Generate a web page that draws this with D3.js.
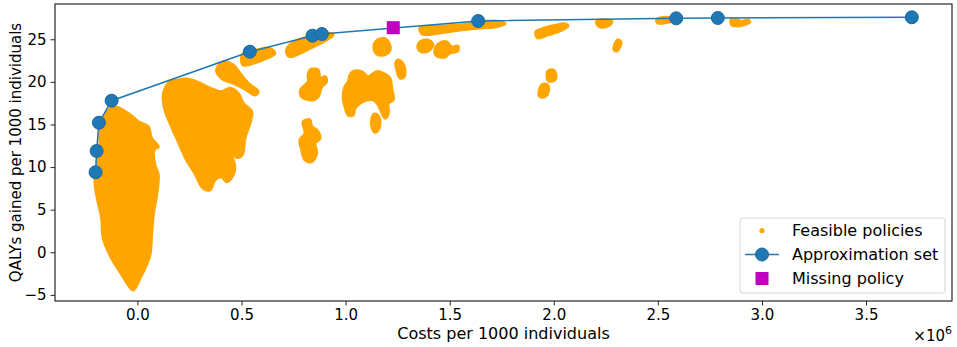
<!DOCTYPE html>
<html>
<head>
<meta charset="utf-8">
<script src="https://cdn.jsdelivr.net/npm/d3@7"></script>
<style>
  html, body { margin: 0; padding: 0; background: #fff; }
  svg { display: block; font-family: "DejaVu Sans", sans-serif; }
</style>
</head>
<body>
<svg id="chart" width="957" height="347"></svg>
<script>
/* Feasible policies vs. approximation set.
   Costs are in units of 1e6 (the axis carries the x10^6 offset label).
   The feasible policies are thousands of dots in the original; here each
   dense cluster is kept as its outline.           */

// approximation set (cost in 1e6, QALYs per 1000)
var approxCost = [-0.201, -0.196, -0.185, -0.124, 0.540, 0.841, 0.886, 1.637, 2.588, 2.788, 3.720];
var approxQaly = [9.39, 11.89, 15.21, 17.79, 23.54, 25.42, 25.62, 27.15, 27.46, 27.50, 27.58];

// the one policy the approximation set missed
var missingCost = [1.229];
var missingQaly = [26.36];

// feasible policy clusters, outlines as [cost, qaly]
var clusterMain = [[-0.116,17.09],[-0.036,16.15],[0.004,15.33],[0.052,14.74],[0.068,13.38],[0.100,12.39],
  [0.079,12.0],[0.084,10.25],[0.100,9.07],[0.092,6.73],[0.076,4.38],[0.068,2.03],[0.060,-0.32],[0.036,-1.88],
  [0.012,-3.05],[-0.020,-4.42],[-0.044,-3.83],[-0.084,-2.28],[-0.124,-0.70],[-0.164,1.64],[-0.172,3.99],
  [-0.196,6.73],[-0.204,8.29],[-0.180,12.21],[-0.180,14.15],[-0.156,16.11]];
var clusterWing = [[0.148,19.84],[0.196,20.22],[0.244,20.31],[0.300,19.84],[0.348,19.25],[0.404,18.85],
  [0.444,19.25],[0.484,18.66],[0.508,17.49],[0.549,16.50],[0.540,15.14],[0.516,13.38],[0.503,11.42],
  [0.476,11.15],[0.404,14.55],[0.468,10.05],[0.460,9.07],[0.428,8.29],[0.404,8.87],[0.372,8.49],
  [0.348,7.32],[0.316,7.51],[0.276,9.27],[0.236,10.83],[0.196,12.98],[0.164,14.74],[0.132,16.70],[0.124,18.46]];
var clusterC = [[0.412,22.37],[0.460,21.98],[0.492,21.01],[0.532,19.84],[0.580,18.85],[0.564,18.46],
  [0.524,19.05],[0.460,19.84],[0.404,20.42],[0.380,21.39]];
var clusterD = [[0.508,23.36],[0.573,23.74],[0.636,23.94],[0.660,23.36],[0.621,22.77],[0.556,22.18],[0.508,21.98],[0.500,22.77]];
var clusterE = [[0.724,24.13],[0.772,24.91],[0.829,25.31],[0.909,25.70],[0.940,25.50],[0.892,24.72],
  [0.829,23.94],[0.780,23.36],[0.732,22.96],[0.716,23.54]];
var clusterF = [[0.829,21.40],[0.868,21.40],[0.877,20.42],[0.901,20.61],[0.909,20.02],[0.885,19.44],
  [0.868,18.26],[0.837,17.88],[0.789,18.26],[0.784,19.05],[0.820,20.02],[0.820,20.81]];
var clusterG = [[0.796,15.33],[0.829,15.53],[0.837,14.74],[0.861,14.35],[0.877,13.38],[0.853,12.79],
  [0.861,11.62],[0.837,10.63],[0.805,10.83],[0.789,12.01],[0.781,13.18],[0.805,13.97]];
var clusterH = [[1.036,21.20],[1.077,21.20],[1.109,20.61],[1.149,21.20],[1.181,21.01],[1.213,20.42],
  [1.221,19.25],[1.229,17.88],[1.205,17.49],[1.205,16.31],[1.189,15.73],[1.157,17.29],[1.133,17.88],
  [1.101,17.88],[1.069,17.49],[1.045,16.90],[1.036,16.11],[1.013,16.11],[0.997,17.09],[0.988,18.26],
  [0.997,19.44],[1.013,20.02],[1.021,20.81]];
var clusterH3 = [[1.137,16.20],[1.157,16.00],[1.165,15.14],[1.157,14.35],[1.141,14.08],[1.128,14.55],[1.125,15.53]];
var clusterI = [[1.147,24.80],[1.184,25.09],[1.208,24.57],[1.213,23.75],[1.184,23.16],[1.150,23.28],[1.136,23.98]];
var clusterJ = [[1.251,22.57],[1.270,22.34],[1.285,21.40],[1.280,20.58],[1.261,20.46],[1.246,21.40],[1.241,22.22]];
var clusterL = [[1.357,26.33],[1.453,26.56],[1.573,26.74],[1.645,27.03],[1.741,27.09],[1.765,26.80],
  [1.717,26.45],[1.645,26.33],[1.549,26.09],[1.453,25.74],[1.369,25.62]];
var clusterM = [[1.357,24.68],[1.395,24.91],[1.419,24.44],[1.405,23.75],[1.367,23.51],[1.348,23.98]];
var clusterN = [[1.453,24.57],[1.486,24.68],[1.510,24.10],[1.539,24.21],[1.539,23.63],[1.501,23.39],
  [1.477,22.92],[1.438,23.04],[1.429,23.75]];
var clusterO = [[1.914,25.86],[1.957,26.33],[2.005,26.62],[2.053,26.80],[2.068,26.56],[2.029,25.98],[1.971,25.51],[1.923,25.16]];
var clusterQ = [[2.207,27.15],[2.260,27.27],[2.279,27.03],[2.260,26.56],[2.222,26.45],[2.207,26.80]];
var clusterR = [[2.308,24.92],[2.323,24.68],[2.304,23.63],[2.290,23.74],[2.294,24.45]];
var clusterS = [[1.972,21.28],[1.996,21.40],[2.010,20.81],[2.005,20.22],[1.976,20.11],[1.967,20.69]];
var clusterT = [[1.945,19.69],[1.969,19.64],[1.974,18.93],[1.955,18.23],[1.931,18.35],[1.931,19.05]];
var clusterU = [[2.495,27.27],[2.524,27.56],[2.558,27.50],[2.567,27.15],[2.534,26.92],[2.500,26.92]];
var clusterV = [[2.851,27.27],[2.884,27.27],[2.903,27.09],[2.932,27.27],[2.942,27.03],[2.918,26.74],[2.884,26.56],[2.856,26.68]];

var feasibleClusters = [clusterMain, clusterWing, clusterC, clusterD, clusterE, clusterF, clusterG,
  clusterH, clusterH3, clusterI, clusterJ, clusterL, clusterM, clusterN, clusterO, clusterQ, clusterR,
  clusterS, clusterT, clusterU, clusterV];

var xTickValues = [0, 0.5, 1.0, 1.5, 2.0, 2.5, 3.0, 3.5];
var yTickValues = [-5, 0, 5, 10, 15, 20, 25];
var legendLabels = ['Feasible policies', 'Approximation set', 'Missing policy'];

(function () {
  'use strict';
  var svg = d3.select('#chart');
  var W = 957, H = 347;
  var margin = { top: 4, right: 5, bottom: 46, left: 55 };

  var ORANGE = '#ffa500', BLUE = '#1f77b4', MAGENTA = '#bf00bf', SPINE = '#262626';

  var x = d3.scaleLinear().domain([-0.396, 3.913]).range([margin.left, W - margin.right]);
  var y = d3.scaleLinear().domain([-5.72, 29.14]).range([H - margin.bottom, margin.top]);

  var plot = svg.append('g');
  svg.append('clipPath').attr('id', 'clip')
    .append('rect')
    .attr('x', margin.left).attr('y', margin.top)
    .attr('width', W - margin.left - margin.right)
    .attr('height', H - margin.top - margin.bottom);
  plot.attr('clip-path', 'url(#clip)');

  /* feasible policies */
  var outline = d3.line().x(function (d) { return x(d[0]); }).y(function (d) { return y(d[1]); })
    .curve(d3.curveCatmullRomClosed.alpha(0.5));
  plot.append('g').selectAll('path')
    .data(feasibleClusters).join('path')
    .attr('d', outline)
    .attr('fill', ORANGE)
    .attr('stroke', ORANGE).attr('stroke-width', 3).attr('stroke-linejoin', 'round');

  /* approximation set */
  var approx = approxCost.map(function (c, i) { return [c, approxQaly[i]]; });
  plot.append('path')
    .datum(approx)
    .attr('d', d3.line().x(function (d) { return x(d[0]); }).y(function (d) { return y(d[1]); }))
    .attr('fill', 'none').attr('stroke', BLUE).attr('stroke-width', 1.5);
  plot.append('g').selectAll('circle')
    .data(approx).join('circle')
    .attr('cx', function (d) { return x(d[0]); })
    .attr('cy', function (d) { return y(d[1]); })
    .attr('r', 6.5)
    .attr('fill', BLUE).attr('stroke', '#1a68a0').attr('stroke-width', 1);

  /* missing policy */
  var sq = 13;
  plot.append('g').selectAll('rect')
    .data(missingCost.map(function (c, i) { return [c, missingQaly[i]]; })).join('rect')
    .attr('x', function (d) { return x(d[0]) - sq / 2; })
    .attr('y', function (d) { return y(d[1]) - sq / 2; })
    .attr('width', sq).attr('height', sq)
    .attr('fill', MAGENTA);

  /* axes */
  var xAxis = svg.append('g')
    .attr('transform', 'translate(0,' + (H - margin.bottom) + ')')
    .call(d3.axisBottom(x).tickValues(xTickValues).tickFormat(d3.format('.1f')).tickSizeOuter(0).tickSize(4.5).tickPadding(4));
  var yAxis = svg.append('g')
    .attr('transform', 'translate(' + margin.left + ',0)')
    .call(d3.axisLeft(y).tickValues(yTickValues).tickFormat(function (d) { return d < 0 ? '\u2212' + Math.abs(d) : d; })
      .tickSizeOuter(0).tickSize(4.5).tickPadding(4));
  [xAxis, yAxis].forEach(function (a) {
    a.select('.domain').remove();
    a.selectAll('.tick line').attr('stroke', SPINE).attr('stroke-width', 1);
    a.selectAll('.tick text').attr('fill', '#000').style('font-size', '15px')
      .style('font-family', '"DejaVu Sans", sans-serif');
  });

  /* frame */
  svg.append('rect')
    .attr('x', margin.left).attr('y', margin.top)
    .attr('width', W - margin.left - margin.right)
    .attr('height', H - margin.top - margin.bottom)
    .attr('fill', 'none').attr('stroke', SPINE).attr('stroke-width', 1.2);

  /* axis labels */
  svg.append('text')
    .attr('x', (margin.left + W - margin.right) / 2).attr('y', 339)
    .attr('text-anchor', 'middle').style('font-size', '16px')
    .text('Costs per 1000 individuals');
  svg.append('text')
    .attr('transform', 'translate(21,' + ((margin.top + H - margin.bottom) / 2) + ') rotate(-90)')
    .attr('text-anchor', 'middle').style('font-size', '15px')
    .text('QALYs gained per 1000 individuals');

  var off = svg.append('text')
    .attr('x', W - margin.right).attr('y', 341)
    .attr('text-anchor', 'end').style('font-size', '15px');
  off.append('tspan').text('\u00d710');
  off.append('tspan').attr('dy', -7).style('font-size', '11px').text('6');

  /* legend */
  var lg = svg.append('g').attr('transform', 'translate(740,218)');
  lg.append('rect')
    .attr('width', 205).attr('height', 75).attr('rx', 3)
    .attr('fill', '#fff').attr('fill-opacity', 0.8)
    .attr('stroke', '#d5d5d5').attr('stroke-width', 1);
  var rowY = [12.5, 36.5, 60.5];
  lg.append('circle').attr('cx', 22).attr('cy', rowY[0]).attr('r', 2.6).attr('fill', ORANGE);
  lg.append('line').attr('x1', 5).attr('x2', 39).attr('y1', rowY[1]).attr('y2', rowY[1])
    .attr('stroke', BLUE).attr('stroke-width', 1.5);
  lg.append('circle').attr('cx', 22).attr('cy', rowY[1]).attr('r', 6.5)
    .attr('fill', BLUE).attr('stroke', '#1a68a0').attr('stroke-width', 1);
  lg.append('rect').attr('x', 22 - sq / 2).attr('y', rowY[2] - sq / 2)
    .attr('width', sq).attr('height', sq).attr('fill', MAGENTA);
  lg.selectAll('text.lbl')
    .data(legendLabels).join('text')
    .attr('class', 'lbl')
    .attr('x', 52).attr('y', function (d, i) { return rowY[i]; })
    .attr('dy', '0.35em').style('font-size', '16px')
    .text(function (d) { return d; });
})();
</script>
</body>
</html>
